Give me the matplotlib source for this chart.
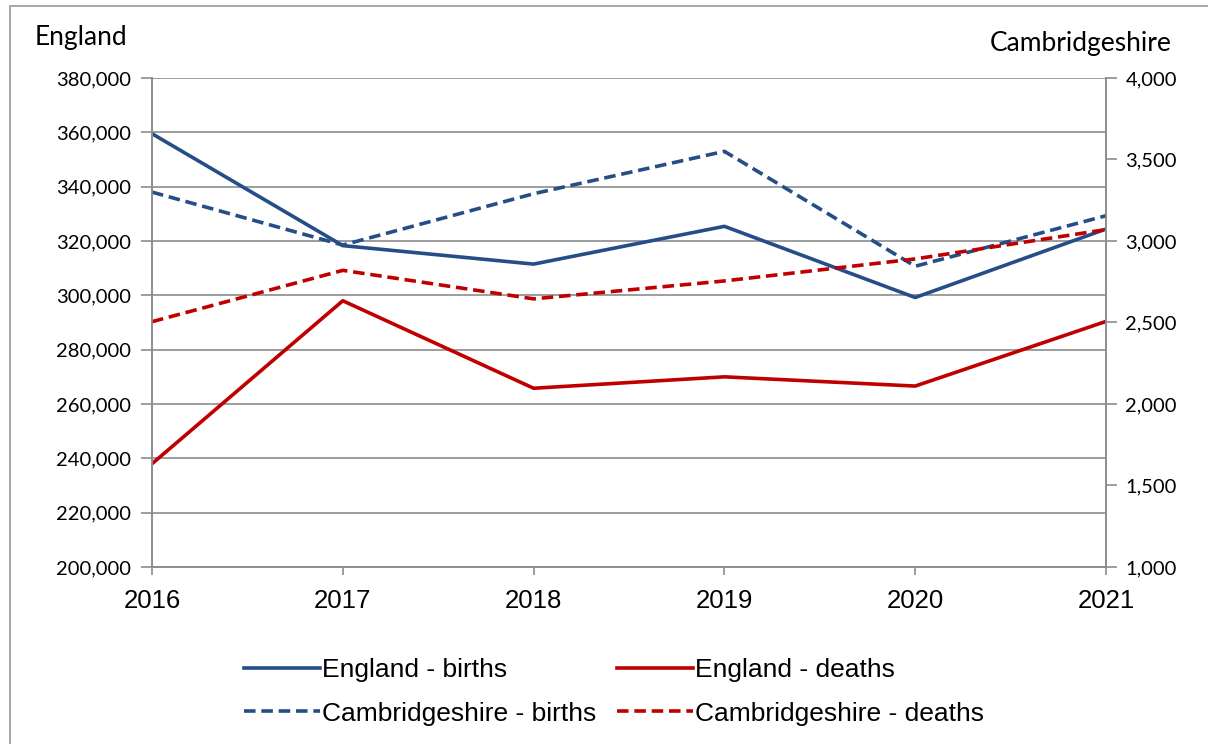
import matplotlib.pyplot as plt
from matplotlib.patches import Rectangle
from matplotlib.ticker import FuncFormatter

years = [2016, 2017, 2018, 2019, 2020, 2021]
england_births = [359500, 318300, 311500, 325400, 299200, 324400]
england_deaths = [238000, 298000, 265800, 270000, 266600, 290400]
cambs_births = [3300, 2975, 3290, 3550, 2845, 3155]
cambs_deaths = [2505, 2820, 2645, 2755, 2890, 3070]

blue = '#254E87'
red = '#C00000'
grid = '#8C8C8C'

fig = plt.figure(figsize=(12.08, 7.44), dpi=100)
ax = fig.add_axes([152 / 1208, 1 - 567 / 744, (1106 - 152) / 1208, (567 - 78) / 744])
ax2 = ax.twinx()

# outer frame
fig.patches.append(Rectangle((10 / 1208, -0.1), 1.2, 1 - 6 / 744 + 0.1,
                             transform=fig.transFigure, fill=False,
                             edgecolor='#9A9A9A', linewidth=1.2))

l1, = ax.plot(years, england_births, color=blue, lw=2.6, label='England - births')
l2, = ax.plot(years, england_deaths, color=red, lw=2.6, label='England - deaths')
l3, = ax2.plot(years, cambs_births, color=blue, lw=2.6, ls=(0, (3.2, 1.6)),
               label='Cambridgeshire - births')
l4, = ax2.plot(years, cambs_deaths, color=red, lw=2.6, ls=(0, (3.2, 1.6)),
               label='Cambridgeshire - deaths')

ax.set_xlim(2016, 2021)
ax.set_ylim(200000, 380000)
ax.set_yticks(range(200000, 380001, 20000))
ax.yaxis.set_major_formatter(FuncFormatter(lambda v, p: f'{int(v):,}'))
ax2.set_ylim(1000, 4000)
ax2.set_yticks(range(1000, 4001, 500))
ax2.yaxis.set_major_formatter(FuncFormatter(lambda v, p: f'{int(v):,}'))
ax.set_xticks(years)

ax.grid(axis='y', color=grid, lw=1.2)
ax.set_axisbelow(True)
for a in (ax, ax2):
    for s in a.spines.values():
        s.set_color(grid)
        s.set_linewidth(1.2)
    a.spines['top'].set_visible(False)
ax.tick_params(axis='y', length=8, width=1.2, color=grid, labelsize=14.5, pad=7)
ax2.tick_params(axis='y', length=8, width=1.2, color=grid, labelsize=14.5, pad=6)
ax.tick_params(axis='x', length=6, width=1.2, color=grid, labelsize=18.5, pad=10)
for lab in ax.get_yticklabels() + ax2.get_yticklabels():
    lab.set_fontfamily(['Lato', 'DejaVu Sans'])
for lab in ax.get_xticklabels():
    lab.set_fontfamily(['Liberation Sans', 'DejaVu Sans'])

fig.text(35 / 1208, 1 - 37 / 744, 'England', fontsize=19, va='center',
         family=['Lato', 'DejaVu Sans'])
fig.text(1172 / 1208, 1 - 44 / 744, 'Cambridgeshire', fontsize=19, va='center',
         ha='right', family=['Lato', 'DejaVu Sans'])

fig.legend([l1, l3, l2, l4],
           ['England - births', 'Cambridgeshire - births',
            'England - deaths', 'Cambridgeshire - deaths'],
           ncol=2, loc='center', bbox_to_anchor=(614 / 1208, 1 - 692 / 744),
           frameon=False, handlelength=2.9, handletextpad=0.08,
           columnspacing=0.75, labelspacing=0.72, borderpad=0,
           prop={'family': ['Liberation Sans', 'DejaVu Sans'], 'size': 19})

fig.savefig('out.png', dpi=100)
